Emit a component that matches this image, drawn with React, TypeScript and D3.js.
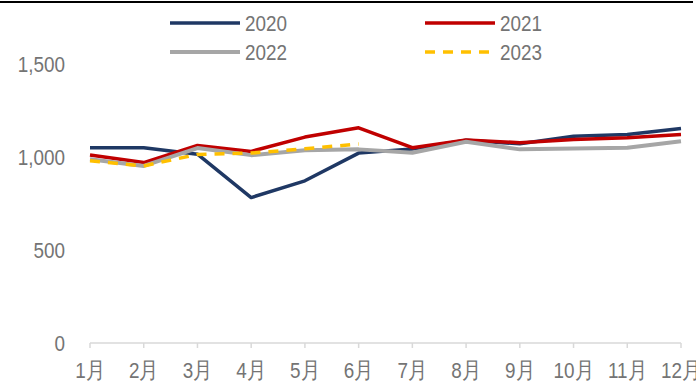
import React from "react";
import * as d3 from "d3";

const months = ["1月", "2月", "3月", "4月", "5月", "6月", "7月", "8月", "9月", "10月", "11月", "12月"];
const yTicks = [0, 500, 1000, 1500];

const values2020 = [1050, 1050, 1015, 782, 872, 1021, 1043, 1090, 1071, 1112, 1121, 1153];
const values2021 = [1011, 970, 1062, 1030, 1107, 1157, 1050, 1092, 1077, 1094, 1103, 1121];
const values2022 = [988, 952, 1048, 1010, 1036, 1041, 1023, 1082, 1041, 1046, 1050, 1085];
const values2023 = [980, 952, 1014, 1021, 1044, 1070];

const seriesList = [
  { name: "2020", values: values2020, color: "#1f3864", width: 3.5, dash: "" },
  { name: "2021", values: values2021, color: "#c00000", width: 3.5, dash: "" },
  { name: "2022", values: values2022, color: "#a6a6a6", width: 4, dash: "" },
  { name: "2023", values: values2023, color: "#ffc000", width: 3.5, dash: "10,8" },
];

const W = 696;
const H = 381;
const FONT = "'Liberation Sans', sans-serif";
const TEXT_COLOR = "#747474";
const FONT_SIZE = 22.5;
const SQUEEZE = 0.84;

// Condensed label: regular glyphs narrowed horizontally around the anchor point.
function Label({ x, y, anchor, dy, children }: { x: number; y: number; anchor: string; dy?: string; children: React.ReactNode }) {
  return (
    <g transform={`translate(${x},${y}) scale(${SQUEEZE},1)`}>
      <text x={0} y={0} dy={dy} textAnchor={anchor} fontSize={FONT_SIZE} fill={TEXT_COLOR}>
        {children}
      </text>
    </g>
  );
}

export default function App() {
  const x = d3.scalePoint<string>().domain(months).range([90, 681]);
  const y = d3.scaleLinear().domain([0, 1750]).range([343, 17.5]);
  const line = d3
    .line<number>()
    .x((_, i) => x(months[i]) as number)
    .y((d) => y(d));

  const legendPos = [
    { x: 170, y: 23 },
    { x: 425, y: 23 },
    { x: 170, y: 52 },
    { x: 425, y: 52 },
  ];

  return (
    <svg
      width={W}
      height={H}
      style={{ position: "absolute", left: 0, top: 0, background: "#fff" }}
      fontFamily={FONT}
    >
      <rect x={0} y={0} width={W} height={H} fill="#fff" />
      {/* top rule */}
      <line x1={0} x2={693} y1={2} y2={2} stroke="#000" strokeWidth={2} />

      {/* y axis labels */}
      {yTicks.map((t) => (
        <Label key={t} x={65} y={y(t)} anchor="end" dy="0.35em">
          {d3.format(",")(t)}
        </Label>
      ))}

      {/* x axis */}
      <line x1={x(months[0])} x2={x(months[11])} y1={y(0)} y2={y(0)} stroke="#d9d9d9" strokeWidth={1.5} />
      {months.map((m) => (
        <g key={m}>
          <line x1={x(m)} x2={x(m)} y1={y(0)} y2={y(0) + 5} stroke="#d9d9d9" strokeWidth={1.5} />
          <Label x={x(m) as number} y={378} anchor="middle">
            {m}
          </Label>
        </g>
      ))}

      {/* series */}
      {seriesList.map((s) => (
        <path
          key={s.name}
          d={line(s.values) as string}
          fill="none"
          stroke={s.color}
          strokeWidth={s.width}
          strokeDasharray={s.dash}
          strokeLinejoin="round"
        />
      ))}

      {/* legend */}
      {seriesList.map((s, i) => (
        <g key={s.name} transform={`translate(${legendPos[i].x},${legendPos[i].y})`}>
          <line x1={0} x2={70} y1={0} y2={0} stroke={s.color} strokeWidth={s.width} strokeDasharray={s.dash} />
          <Label x={75} y={0} anchor="start" dy="0.35em">
            {s.name}
          </Label>
        </g>
      ))}
    </svg>
  );
}
